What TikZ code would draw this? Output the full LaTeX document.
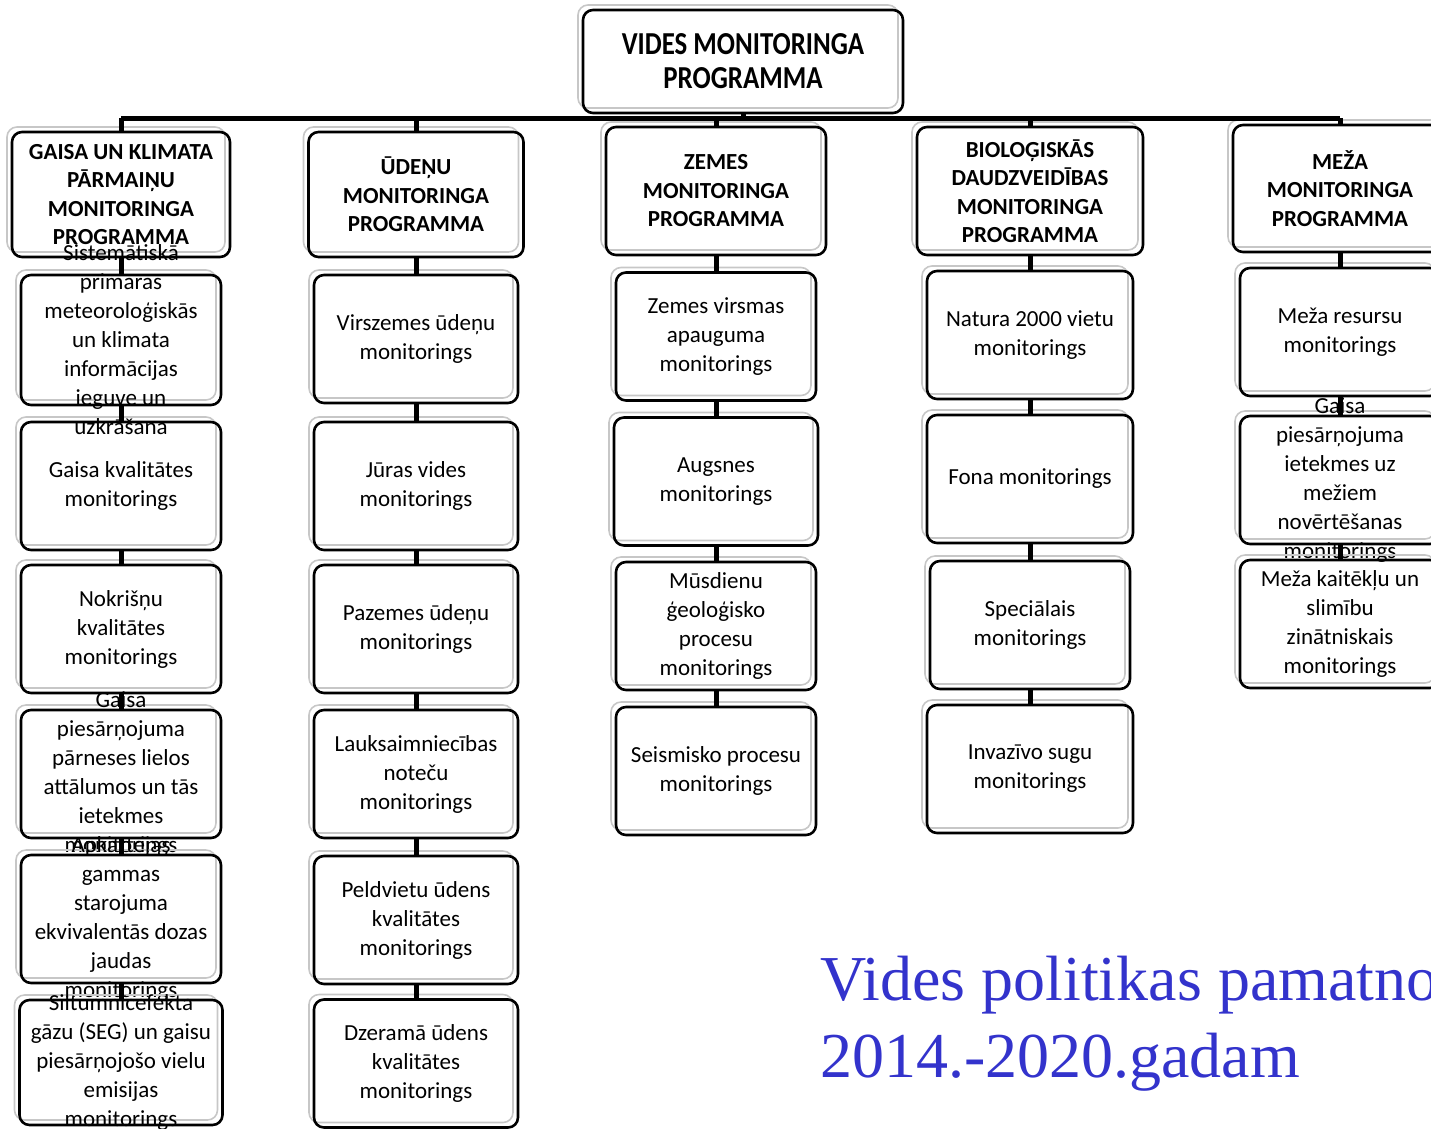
\documentclass[tikz,border=0pt]{standalone}
\usepackage{fontspec}
\setmainfont{Carlito}
\newfontfamily\narrowfont[FakeStretch=0.84]{Carlito}
\newfontfamily\notefont{Liberation Serif}
\usetikzlibrary{shadows}

\definecolor{notecol}{RGB}{51,51,204}
\newcommand\titlefont{\narrowfont\bfseries\fontsize{32}{34}\selectfont}
\newcommand\headfont{\bfseries\fontsize{23}{28.5}\selectfont}
\newcommand\leaffont{\fontsize{23}{29}\selectfont}

\tikzset{
  box/.style={draw, line width=2.6pt, rounded corners=10pt, inner sep=0pt,
    general shadow={draw=black!22, line width=1.6pt, shadow xshift=-5pt, shadow yshift=5pt}},
  txt/.style={align=center, inner sep=0pt},
  title/.style={box, label={[txt, font=\titlefont]center:{#1}}},
  head/.style={box, label={[txt, font=\headfont]center:{#1}}},
  leaf/.style={box, minimum width=200pt, minimum height=128pt,
    label={[txt, font=\leaffont]center:{#1}}},
  link/.style={line width=5pt},
}

\begin{document}
\begin{tikzpicture}[x=1pt,y=-1pt]
  \useasboundingbox (0,0) rectangle (1431,1128);
  \clip (0,0) rectangle (1431,1128);

  % top of the tree
  \node[title={VIDES MONITORINGA\\PROGRAMMA}, minimum width=320pt, minimum height=103pt] (top) at (743,61.5) {};
  \coordinate (bar) at (743,118);

  % programmes
  \node[head={GAISA UN KLIMATA\\PĀRMAIŅU\\MONITORINGA\\PROGRAMMA}, minimum width=218pt, minimum height=125pt] (gaisa) at (121,194.5) {};
  \node[head={ŪDEŅU\\MONITORINGA\\PROGRAMMA}, minimum width=215pt, minimum height=125pt] (udenu) at (416,194.5) {};
  \node[head={ZEMES\\MONITORINGA\\PROGRAMMA}, minimum width=220pt, minimum height=128pt] (zemes) at (716,191) {};
  \node[head={BIOLOĢISKĀS\\DAUDZVEIDĪBAS\\MONITORINGA\\PROGRAMMA}, minimum width=226pt, minimum height=128pt] (bio) at (1030,191) {};
  \node[head={MEŽA\\MONITORINGA\\PROGRAMMA}, minimum width=214pt, minimum height=127pt] (meza) at (1340,188.5) {};

  % gaisa column
  \node[leaf={Sistemātiskā\\primārās\\meteoroloģiskās\\un klimata\\informācijas\\ieguve un\\uzkrāšana}, minimum height=130pt] (g1) at (121,340) {};
  \node[leaf={Gaisa kvalitātes\\monitorings}] (g2) at (121,486) {};
  \node[leaf={Nokrišņu\\kvalitātes\\monitorings}] (g3) at (121,629) {};
  \node[leaf={Gaisa\\piesārņojuma\\pārneses lielos\\attālumos un tās\\ietekmes\\monitorings}] (g4) at (121,774) {};
  \node[leaf={Apkārtējās\\gammas\\starojuma\\ekvivalentās dozas\\jaudas\\monitorings}] (g5) at (121,919) {};
  \node[leaf={Siltumnīcefekta\\gāzu (SEG) un gaisu\\piesārņojošo vielu\\emisijas\\monitorings}, minimum width=203pt, minimum height=125pt] (g6) at (121,1062.5) {};

  % udenu column
  \node[leaf={Virszemes ūdeņu\\monitorings}, minimum width=204pt] (u1) at (416,339) {};
  \node[leaf={Jūras vides\\monitorings}, minimum width=204pt] (u2) at (416,486) {};
  \node[leaf={Pazemes ūdeņu\\monitorings}, minimum width=204pt] (u3) at (416,629) {};
  \node[leaf={Lauksaimniecības\\noteču\\monitorings}, minimum width=204pt] (u4) at (416,774) {};
  \node[leaf={Peldvietu ūdens\\kvalitātes\\monitorings}, minimum width=204pt] (u5) at (416,920) {};
  \node[leaf={Dzeramā ūdens\\kvalitātes\\monitorings}, minimum width=204pt] (u6) at (416,1063.5) {};

  % zemes column
  \node[leaf={Zemes virsmas\\apauguma\\monitorings}] (z1) at (716,336.5) {};
  \node[leaf={Augsnes\\monitorings}, minimum width=204pt] (z2) at (716,481.5) {};
  \node[leaf={Mūsdienu\\ģeoloģisko\\procesu\\monitorings}] (z3) at (716,626) {};
  \node[leaf={Seismisko procesu\\monitorings}] (z4) at (716,771) {};

  % bio column
  \node[leaf={Natura 2000 vietu\\monitorings}, minimum width=206pt] (b1) at (1030,335) {};
  \node[leaf={Fona monitorings}, minimum width=206pt] (b2) at (1030,479) {};
  \node[leaf={Speciālais\\monitorings}] (b3) at (1030,625) {};
  \node[leaf={Invazīvo sugu\\monitorings}, minimum width=206pt] (b4) at (1030,769) {};

  % meza column
  \node[leaf={Meža resursu\\monitorings}] (m1) at (1340,332) {};
  \node[leaf={Gaisa\\piesārņojuma\\ietekmes uz\\mežiem\\novērtēšanas\\monitorings}] (m2) at (1340,480) {};
  \node[leaf={Meža kaitēkļu un\\slimību\\zinātniskais\\monitorings}] (m3) at (1340,624) {};

  % connectors
  \draw[link] (top) -- (bar);
  \draw[link] (gaisa.north |- bar) -- (meza.north |- bar);
  \draw[link] (gaisa.north |- bar) -- (gaisa);
  \draw[link] (udenu.north |- bar) -- (udenu);
  \draw[link] (zemes.north |- bar) -- (zemes);
  \draw[link] (bio.north |- bar) -- (bio);
  \draw[link] (meza.north |- bar) -- (meza);
  \draw[link] (gaisa) -- (g1) (g1) -- (g2) (g2) -- (g3) (g3) -- (g4) (g4) -- (g5) (g5) -- (g6);
  \draw[link] (udenu) -- (u1) (u1) -- (u2) (u2) -- (u3) (u3) -- (u4) (u4) -- (u5) (u5) -- (u6);
  \draw[link] (zemes) -- (z1) (z1) -- (z2) (z2) -- (z3) (z3) -- (z4);
  \draw[link] (bio) -- (b1) (b1) -- (b2) (b2) -- (b3) (b3) -- (b4);
  \draw[link] (meza) -- (m1) (m1) -- (m2) (m2) -- (m3);

  % caption
  \node[anchor=west, align=left, inner sep=0pt, text=notecol, font=\notefont\fontsize{64}{77}\selectfont] (note) at (820,1023.5) {Vides politikas pamatno\\2014.-2020.gadam};
\end{tikzpicture}
\end{document}
